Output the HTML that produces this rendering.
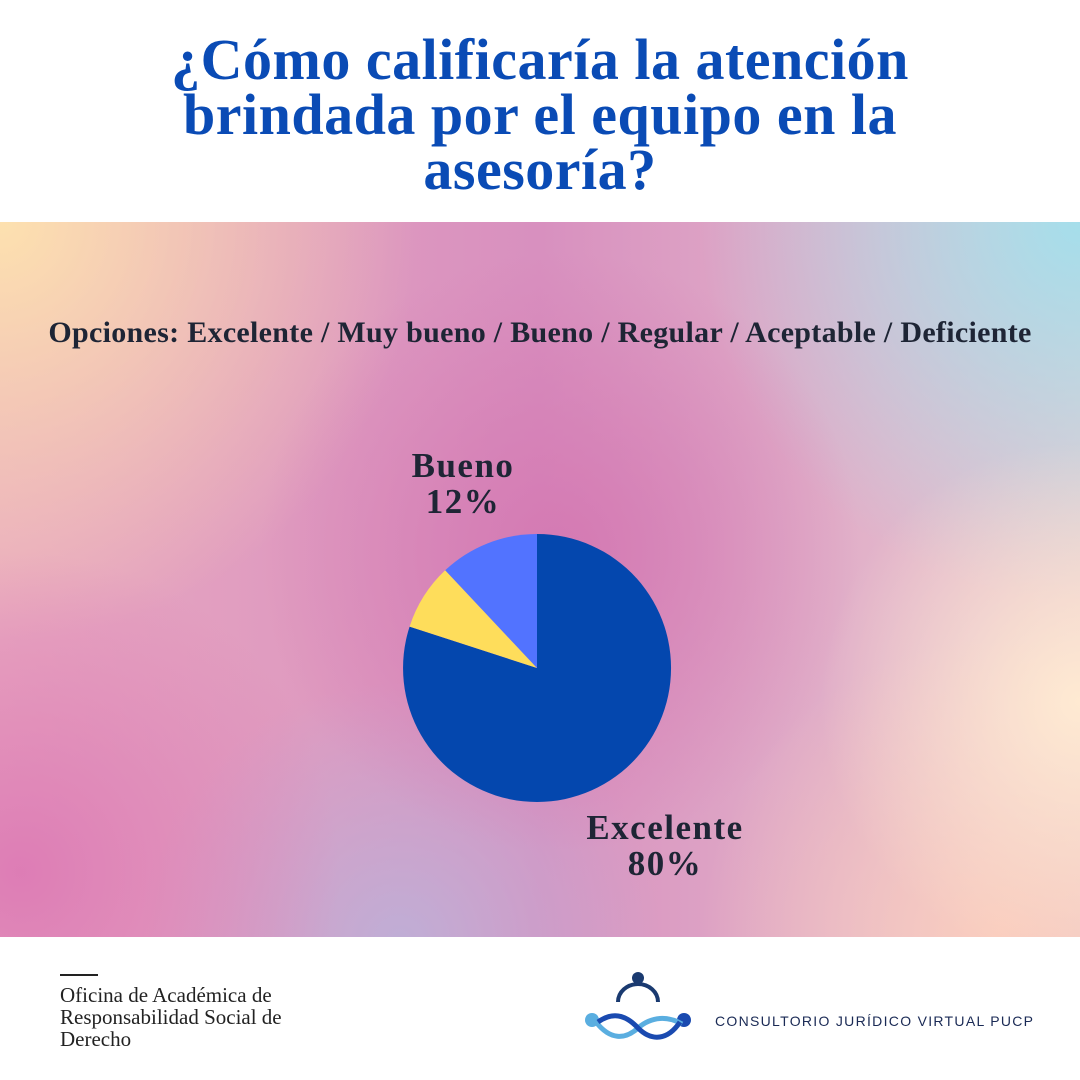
<!DOCTYPE html>
<html><head><meta charset="utf-8"><style>
html,body{margin:0;padding:0}
body{width:1080px;height:1080px;position:relative;background:#fff;overflow:hidden;font-family:"Liberation Serif",serif}
.title{position:absolute;top:32px;left:0;width:1080px;text-align:center;color:#0a4bb5;font-weight:bold;font-size:58px;line-height:55px;letter-spacing:0.5px}
.bg{position:absolute;top:222px;left:0;width:1080px;height:715px;
background:
radial-gradient(circle at 560px 330px, rgba(212,120,178,0.95) 0, rgba(212,120,178,0) 300px),
radial-gradient(circle at 20px 650px, rgba(220,120,180,0.9) 0, rgba(220,120,180,0) 320px),
radial-gradient(circle at 400px 720px, rgba(190,175,215,0.95) 0, rgba(190,175,215,0) 260px),
radial-gradient(circle at 1080px 480px, rgba(255,234,210,1) 0, rgba(255,234,210,0) 260px),
radial-gradient(circle at 1080px 0px, rgba(165,222,235,1) 0, rgba(165,222,235,0) 380px),
radial-gradient(circle at 0px 0px, rgba(253,225,175,1) 0, rgba(253,225,175,0) 420px),
radial-gradient(circle at 1000px 715px, rgba(250,205,190,1) 0, rgba(250,205,190,0) 300px),
linear-gradient(90deg,#e8a8c0,#d890bf 50%,#e8c8d0);}
.sub{position:absolute;top:316px;left:0;width:1080px;text-align:center;font-weight:bold;font-size:30px;letter-spacing:0.3px;color:#1e2535;white-space:nowrap}
.lab{position:absolute;text-align:center;font-weight:bold;font-size:35px;line-height:36px;letter-spacing:1.5px;color:#1e2535}
.foot{position:absolute;left:60px;top:984px;font-size:21px;line-height:22px;color:#222;white-space:nowrap}
.logo{position:absolute;left:715px;top:1013px;font-family:"Liberation Sans",sans-serif;font-size:14px;letter-spacing:1.3px;color:#1a2a55;white-space:nowrap}
</style></head><body>
<div class="title">¿Cómo calificaría la atención<br>brindada por el equipo en la<br>asesoría?</div>
<div class="bg"></div>
<div class="sub">Opciones: Excelente / Muy bueno / Bueno / Regular / Aceptable / Deficiente</div>
<svg style="position:absolute;left:0;top:0" width="1080" height="1080">
<path d="M537,668 L537,534 A134,134 0 1 1 409.6,626.6 Z" fill="#0447ae"/>
<path d="M537,668 L409.6,626.6 A134,134 0 0 1 445.2,570.3 Z" fill="#fedd5b"/>
<path d="M537,668 L445.2,570.3 A134,134 0 0 1 537,534 Z" fill="#5273ff"/>
<line x1="60" y1="975" x2="98" y2="975" stroke="#222" stroke-width="2"/>
<circle cx="638" cy="978" r="6" fill="#1a3a70"/>
<path d="M618,1002 A20,18 0 0 1 658,1002" fill="none" stroke="#1a3a70" stroke-width="4"/>
<circle cx="592" cy="1020" r="7" fill="#5aaee0"/>
<circle cx="684" cy="1020" r="7" fill="#1a4ab0"/>
<path d="M596,1022 C610,1040 625,1040 638,1028 C652,1016 668,1016 682,1024" fill="none" stroke="#5aaee0" stroke-width="5"/>
<path d="M598,1022 C612,1012 625,1014 638,1028 C652,1042 668,1040 680,1022" fill="none" stroke="#1a4ab0" stroke-width="5"/>
</svg>
<div class="lab" style="left:383px;top:448px;width:160px">Bueno<br>12%</div>
<div class="lab" style="left:560px;top:810px;width:210px">Excelente<br>80%</div>
<div class="foot">Oficina de Académica de<br>Responsabilidad Social de<br>Derecho</div>
<div class="logo">CONSULTORIO JURÍDICO VIRTUAL PUCP</div>
</body></html>
